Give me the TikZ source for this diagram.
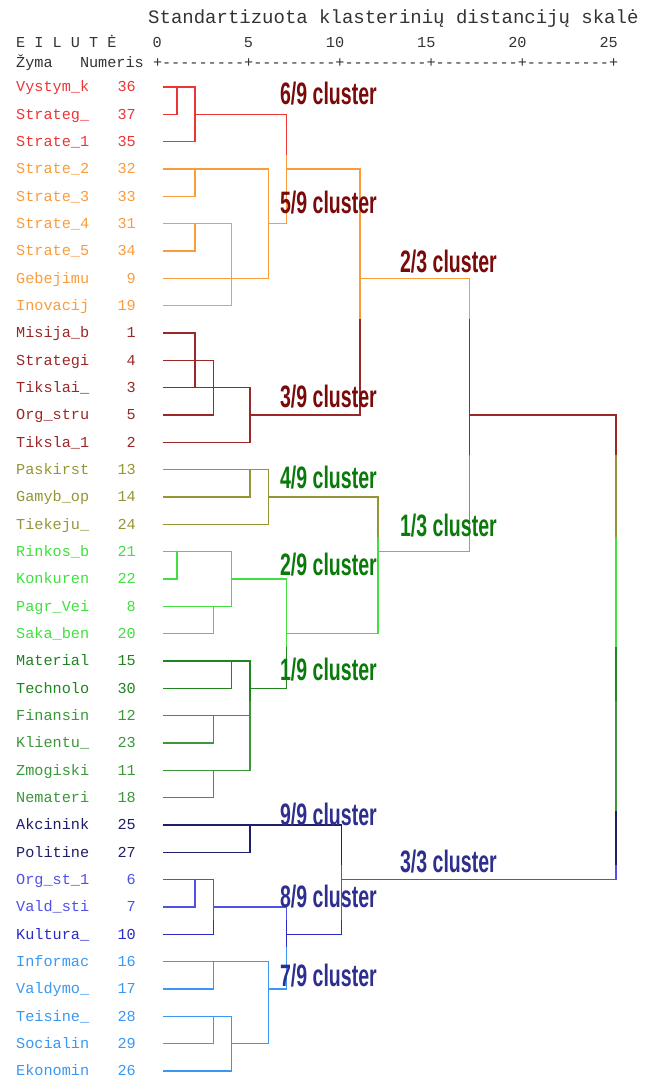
\documentclass[tikz,border=0pt]{standalone}
\usepackage{fontspec}
\usepackage{xcolor}
\usepackage{tikz}
\usetikzlibrary{positioning}
\setmainfont{Liberation Sans}
\newfontfamily\monofont{Liberation Mono}[Ligatures=TeXOff]

\definecolor{cRed}{HTML}{EE3535}
\definecolor{cOrange}{HTML}{FA9C3C}
\definecolor{cMaroon}{HTML}{9A2828}
\definecolor{cOlive}{HTML}{959535}
\definecolor{cLime}{HTML}{40E040}
\definecolor{cGreen}{HTML}{208420}
\definecolor{cGreenL}{HTML}{3A973A}
\definecolor{cNavy}{HTML}{1E1E6A}
\definecolor{cBlue}{HTML}{5050E8}
\definecolor{cBlueD}{HTML}{2A2AC4}
\definecolor{cSky}{HTML}{3A98F2}
\definecolor{tMaroon}{HTML}{7A0A0A}
\definecolor{tGreen}{HTML}{0A7A0A}
\definecolor{tNavy}{HTML}{2E2E8E}

% whole tree, x = distance, y = row
\tikzset{
	dendro/.style={insert path={
		(0.25,1) -| (1,0) (0.25,0) -| (2,2) -- (0.25,2) (2,1) -| (7,5) -- (6,5)
		(0.25,3) -| (6,7) -- (0.25,7) (0.25,4) -| (2,3) (0.25,6) -| (2,5)
		(0.25,5) -| (4,8) -- (0.25,8)
		(7,3) -| (11,12) -- (5,12) (11,7) -| (17,17) -- (12,17)
		(0.25,9) -| (2,11) (0.25,11) -| (5,13) -- (0.25,13) (0.25,10) -| (3,12) -- (0.25,12)
		(17,12) -| (25,29) -- (10,29)
		(0.25,15) -| (5,14) (0.25,14) -| (6,16) -- (0.25,16) (6,15) -| (12,20) -- (7,20)
		(0.25,18) -| (1,17) (0.25,17) -| (4,19) -- (0.25,19) (0.25,20) -| (3,19)
		(4,18) -| (7,22) -- (5,22)
		(0.25,22) -| (4,21) (0.25,21) -| (5,25) -- (0.25,25) (0.25,23) -- (5,23)
		(0.25,24) -| (3,23) (0.25,26) -| (3,25)
		(0.25,27) -| (10,31) -- (7,31) (0.25,28) -| (5,27)
		(0.25,30) -| (2,29) (0.25,29) -| (3,31) -- (0.25,31) (3,30) -| (7,33) -- (6,33)
		(0.25,33) -| (3,32) (0.25,32) -| (6,35) -- (4,35) (0.25,35) -| (3,34)
		(0.25,34) -| (4,36) -- (0.25,36)
	}}
}

\begin{document}
\begin{tikzpicture}[
		x=1pt, y=-1pt,
		tree/.style={line width=1.4pt},
		lab/.style={anchor=base west, inner sep=0pt, yshift=-5pt, font=\monofont\fontsize{15.2}{16}\selectfont},
		num/.style={lab, anchor=base east},
		head/.style={anchor=base west, inner sep=0pt, color=black!80, font=\monofont\fontsize{15.2}{16}\selectfont},
		clus/.style={anchor=base west, inner sep=0pt, xscale=0.63, font=\bfseries\fontsize{31}{31}\selectfont}
	]
	\useasboundingbox (0,0) rectangle (653,1081);

	% header
	\node[head, font=\monofont\fontsize{19}{20}\selectfont] (title) at (148,24) {Standartizuota klasterinių distancijų skalė};
	\node[head] (eilute) at (16,48) {E I L U T Ė};
	\node[head, anchor=base east] (s0) at (162,48) {0};
	\node[head, anchor=base east] (s5) at (253.2,48) {5};
	\node[head, anchor=base east] (s10) at (344.4,48) {10};
	\node[head, anchor=base east] (s15) at (435.6,48) {15};
	\node[head, anchor=base east] (s20) at (526.8,48) {20};
	\node[head, anchor=base east] (s25) at (618,48) {25};
	\node[head] (zyma) at (16,67) {Žyma};
	\node[head] (numeris) at (79.8,67) {Numeris};
	\node[head] (axis) at (152.8,67) {+---------+---------+---------+---------+---------+};

	% leaves
	\begin{scope}[y=-27.33pt, yshift=-87pt]
		\node[lab, cRed] (lab36) at (16,0) {Vystym\_k}; \node[num, cRed] (num36) at (136,0) {36};
		\node[lab, cRed] (lab37) at (16,1) {Strateg\_}; \node[num, cRed] (num37) at (136,1) {37};
		\node[lab, cRed] (lab35) at (16,2) {Strate\_1}; \node[num, cRed] (num35) at (136,2) {35};
		\node[lab, cOrange] (lab32) at (16,3) {Strate\_2}; \node[num, cOrange] (num32) at (136,3) {32};
		\node[lab, cOrange] (lab33) at (16,4) {Strate\_3}; \node[num, cOrange] (num33) at (136,4) {33};
		\node[lab, cOrange] (lab31) at (16,5) {Strate\_4}; \node[num, cOrange] (num31) at (136,5) {31};
		\node[lab, cOrange] (lab34) at (16,6) {Strate\_5}; \node[num, cOrange] (num34) at (136,6) {34};
		\node[lab, cOrange] (lab9) at (16,7) {Gebejimu}; \node[num, cOrange] (num9) at (136,7) {9};
		\node[lab, cOrange] (lab19) at (16,8) {Inovacij}; \node[num, cOrange] (num19) at (136,8) {19};
		\node[lab, cMaroon] (lab1) at (16,9) {Misija\_b}; \node[num, cMaroon] (num1) at (136,9) {1};
		\node[lab, cMaroon] (lab4) at (16,10) {Strategi}; \node[num, cMaroon] (num4) at (136,10) {4};
		\node[lab, cMaroon] (lab3) at (16,11) {Tikslai\_}; \node[num, cMaroon] (num3) at (136,11) {3};
		\node[lab, cMaroon] (lab5) at (16,12) {Org\_stru}; \node[num, cMaroon] (num5) at (136,12) {5};
		\node[lab, cMaroon] (lab2) at (16,13) {Tiksla\_1}; \node[num, cMaroon] (num2) at (136,13) {2};
		\node[lab, cOlive] (lab13) at (16,14) {Paskirst}; \node[num, cOlive] (num13) at (136,14) {13};
		\node[lab, cOlive] (lab14) at (16,15) {Gamyb\_op}; \node[num, cOlive] (num14) at (136,15) {14};
		\node[lab, cOlive] (lab24) at (16,16) {Tiekeju\_}; \node[num, cOlive] (num24) at (136,16) {24};
		\node[lab, cLime] (lab21) at (16,17) {Rinkos\_b}; \node[num, cLime] (num21) at (136,17) {21};
		\node[lab, cLime] (lab22) at (16,18) {Konkuren}; \node[num, cLime] (num22) at (136,18) {22};
		\node[lab, cLime] (lab8) at (16,19) {Pagr\_Vei}; \node[num, cLime] (num8) at (136,19) {8};
		\node[lab, cLime] (lab20) at (16,20) {Saka\_ben}; \node[num, cLime] (num20) at (136,20) {20};
		\node[lab, cGreen] (lab15) at (16,21) {Material}; \node[num, cGreen] (num15) at (136,21) {15};
		\node[lab, cGreen] (lab30) at (16,22) {Technolo}; \node[num, cGreen] (num30) at (136,22) {30};
		\node[lab, cGreenL] (lab12) at (16,23) {Finansin}; \node[num, cGreenL] (num12) at (136,23) {12};
		\node[lab, cGreenL] (lab23) at (16,24) {Klientu\_}; \node[num, cGreenL] (num23) at (136,24) {23};
		\node[lab, cGreenL] (lab11) at (16,25) {Zmogiski}; \node[num, cGreenL] (num11) at (136,25) {11};
		\node[lab, cGreenL] (lab18) at (16,26) {Nemateri}; \node[num, cGreenL] (num18) at (136,26) {18};
		\node[lab, cNavy] (lab25) at (16,27) {Akcinink}; \node[num, cNavy] (num25) at (136,27) {25};
		\node[lab, cNavy] (lab27) at (16,28) {Politine}; \node[num, cNavy] (num27) at (136,28) {27};
		\node[lab, cBlue] (lab6) at (16,29) {Org\_st\_1}; \node[num, cBlue] (num6) at (136,29) {6};
		\node[lab, cBlue] (lab7) at (16,30) {Vald\_sti}; \node[num, cBlue] (num7) at (136,30) {7};
		\node[lab, cBlueD] (lab10) at (16,31) {Kultura\_}; \node[num, cBlueD] (num10) at (136,31) {10};
		\node[lab, cSky] (lab16) at (16,32) {Informac}; \node[num, cSky] (num16) at (136,32) {16};
		\node[lab, cSky] (lab17) at (16,33) {Valdymo\_}; \node[num, cSky] (num17) at (136,33) {17};
		\node[lab, cSky] (lab28) at (16,34) {Teisine\_}; \node[num, cSky] (num28) at (136,34) {28};
		\node[lab, cSky] (lab29) at (16,35) {Socialin}; \node[num, cSky] (num29) at (136,35) {29};
		\node[lab, cSky] (lab26) at (16,36) {Ekonomin}; \node[num, cSky] (num26) at (136,36) {26};
	\end{scope}

	% tree, coloured row band by row band
	\begin{scope}[x=18.3pt, y=-27.33pt, xshift=158.5pt, yshift=-87pt]
		\begin{scope} \clip (-1,-0.5) rectangle (26,2.5); \draw[tree, cRed, dendro]; \end{scope}
		\begin{scope} \clip (-1,2.5) rectangle (26,8.5); \draw[tree, cOrange, dendro]; \end{scope}
		\begin{scope} \clip (-1,8.5) rectangle (26,13.5); \draw[tree, cMaroon, dendro]; \end{scope}
		\begin{scope} \clip (-1,13.5) rectangle (26,16.5); \draw[tree, cOlive, dendro]; \end{scope}
		\begin{scope} \clip (-1,16.5) rectangle (26,20.5); \draw[tree, cLime, dendro]; \end{scope}
		\begin{scope} \clip (-1,20.5) rectangle (26,22.5); \draw[tree, cGreen, dendro]; \end{scope}
		\begin{scope} \clip (-1,22.5) rectangle (26,26.5); \draw[tree, cGreenL, dendro]; \end{scope}
		\begin{scope} \clip (-1,26.5) rectangle (26,28.5); \draw[tree, cNavy, dendro]; \end{scope}
		\begin{scope} \clip (-1,28.5) rectangle (26,30.5); \draw[tree, cBlue, dendro]; \end{scope}
		\begin{scope} \clip (-1,30.5) rectangle (26,31.5); \draw[tree, cBlueD, dendro]; \end{scope}
		\begin{scope} \clip (-1,31.5) rectangle (26,36.5); \draw[tree, cSky, dendro]; \end{scope}
	\end{scope}

	% cluster names
	\node[clus, tMaroon] (c69) at (280,104) {6/9 cluster};
	\node[clus, tMaroon] (c59) at (280,213) {5/9 cluster};
	\node[clus, tMaroon] (c23) at (400,272) {2/3 cluster};
	\node[clus, tMaroon] (c39) at (280,407) {3/9 cluster};
	\node[clus, tGreen] (c49) at (280,488) {4/9 cluster};
	\node[clus, tGreen] (c13) at (400,536) {1/3 cluster};
	\node[clus, tGreen] (c29) at (280,575) {2/9 cluster};
	\node[clus, tGreen] (c19) at (280,680) {1/9 cluster};
	\node[clus, tNavy] (c99) at (280,825) {9/9 cluster};
	\node[clus, tNavy] (c33) at (400,872) {3/3 cluster};
	\node[clus, tNavy] (c89) at (280,907) {8/9 cluster};
	\node[clus, tNavy] (c79) at (280,986) {7/9 cluster};
\end{tikzpicture}
\end{document}
